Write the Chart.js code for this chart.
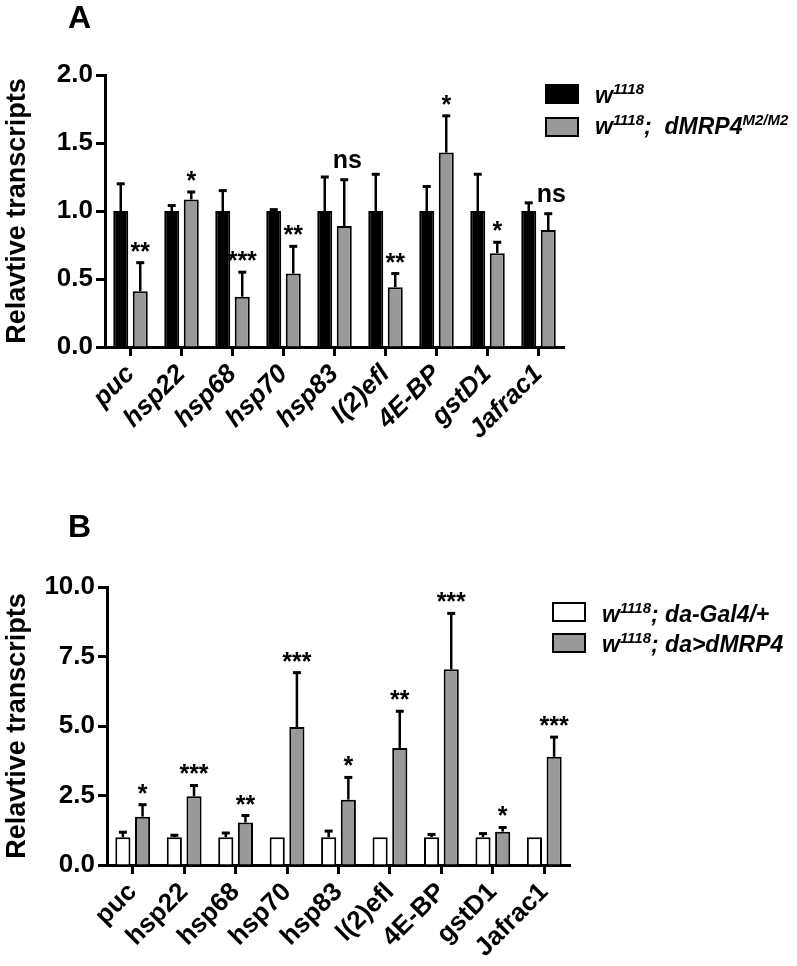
<!DOCTYPE html>
<html>
<head>
<meta charset="utf-8">
<script src="https://cdn.jsdelivr.net/npm/chart.js@4.4.0/dist/chart.umd.min.js"></script>
<style>
  body { margin: 0; background: #fff; width: 797px; height: 966px; position: relative; overflow: hidden; }
  canvas { position: absolute; left: 0; }
  #chartA { top: 0; }
  #chartB { top: 470px; }
</style>
</head>
<body>
<canvas id="chartA" width="797" height="470"></canvas>
<canvas id="chartB" width="797" height="496"></canvas>
<script>
const genes = ["puc", "hsp22", "hsp68", "hsp70", "hsp83", "l(2)efl", "4E-BP", "gstD1", "Jafrac1"];

// panel A: w1118 vs w1118; dMRP4 M2/M2
const aControl = [1, 1, 1, 1, 1, 1, 1, 1, 1];
const aControlSem = [0.20, 0.04, 0.15, 0.01, 0.25, 0.27, 0.18, 0.27, 0.06];
const aMutant = [0.41, 1.085, 0.37, 0.54, 0.89, 0.44, 1.43, 0.69, 0.86];
const aMutantSem = [0.21, 0.055, 0.18, 0.20, 0.34, 0.10, 0.27, 0.08, 0.12];
const aSig = ["**", "*", "***", "**", "ns", "**", "*", "*", "ns"];
const aTicks = [0, 0.5, 1.0, 1.5, 2.0];

// panel B: w1118; da-Gal4/+ vs w1118; da>dMRP4
const bControl = [1, 1, 1, 1, 1, 1, 1, 1, 1];
const bControlSem = [0.18, 0.07, 0.15, 0, 0.22, 0, 0.10, 0.13, 0];
const bOver = [1.74, 2.47, 1.53, 4.96, 2.35, 4.21, 7.04, 1.20, 3.89];
const bOverSem = [0.43, 0.39, 0.25, 1.96, 0.80, 1.32, 2.01, 0.15, 0.71];
const bSig = ["*", "***", "**", "***", "*", "**", "***", "*", "***"];
const bTicks = [0, 2.5, 5.0, 7.5, 10.0];

const FONT = "'Liberation Sans', Arial, sans-serif";
const GRAY = "#999999";

// error bars (upper only) + significance marks
const errorBars = {
  id: "errorBars",
  afterDatasetsDraw(chart) {
    const ctx = chart.ctx;
    const y = chart.scales.y;
    ctx.save();
    chart.data.datasets.forEach((ds, di) => {
      const meta = chart.getDatasetMeta(di);
      meta.data.forEach((bar, i) => {
        const top = y.getPixelForValue(ds.data[i] + ds.sem[i]);
        if (ds.sem[i] > 0) {
          ctx.strokeStyle = "#000";
          ctx.lineWidth = 2.5;
          ctx.beginPath();
          ctx.moveTo(bar.x, bar.y);
          ctx.lineTo(bar.x, top);
          ctx.stroke();
          ctx.lineWidth = 3;
          ctx.beginPath();
          ctx.moveTo(bar.x - 4, top);
          ctx.lineTo(bar.x + 4, top);
          ctx.stroke();
        }
        if (ds.sig) {
          const s = ds.sig[i];
          ctx.fillStyle = "#000";
          ctx.textAlign = "center";
          ctx.textBaseline = "alphabetic";
          ctx.font = "bold 25px " + FONT;
          ctx.fillText(s, bar.x + (s === "ns" ? 3 : 0), top - (s === "ns" ? 12 : 3));
        }
      });
    });
    ctx.restore();
  }
};

// legend with superscripts, and panel letter
const decor = {
  id: "decor",
  afterDraw(chart) {
    const o = chart.options.plugins.decor;
    const ctx = chart.ctx;
    ctx.save();
    ctx.fillStyle = "#000";
    ctx.textAlign = "left";
    ctx.textBaseline = "alphabetic";
    ctx.font = "bold 32px " + FONT;
    ctx.fillText(o.letter, o.letterX, o.letterY);
    o.items.forEach((item) => {
      ctx.fillStyle = item.fill;
      ctx.fillRect(o.boxX, item.boxY, 34, 20);
      ctx.strokeStyle = "#000";
      ctx.lineWidth = 2;
      ctx.strokeRect(o.boxX + 1, item.boxY + 1, 32, 18);
      let x = o.textX;
      item.parts.forEach(([txt, sup]) => {
        ctx.fillStyle = "#000";
        ctx.font = "italic bold " + (sup ? 15 : 23) + "px " + FONT;
        ctx.fillText(txt, x, item.base - (sup ? 9 : 0));
        x += ctx.measureText(txt).width;
      });
    });
    ctx.restore();
  }
};

function buildChart(id, c) {
  return new Chart(document.getElementById(id), {
    type: "bar",
    data: {
      labels: genes,
      datasets: [
        { data: c.ctrl, sem: c.ctrlSem, backgroundColor: c.ctrlFill, borderColor: "#000", borderWidth: 2 },
        { data: c.test, sem: c.testSem, sig: c.sig, backgroundColor: GRAY, borderColor: "#000", borderWidth: 2 }
      ]
    },
    options: {
      responsive: false,
      animation: false,
      categoryPercentage: 0.765,
      barPercentage: 0.77,
      layout: { padding: { left: 0, top: c.top, right: c.right, bottom: 0 } },
      plugins: { legend: { display: false }, tooltip: { enabled: false }, decor: c.decor },
      scales: {
        x: {
          grid: { offset: false, drawOnChartArea: false, tickLength: 9, tickWidth: 3, tickColor: "#000" },
          border: { color: "#000", width: 3 },
          ticks: {
            color: "#000", autoSkip: false, maxRotation: 45, minRotation: 45, padding: 3,
            font: { family: FONT, size: 26, weight: "bold", style: c.xStyle }
          },
          afterFit: (s) => { s.height = c.xHeight; }
        },
        y: {
          min: 0, max: c.ticks[c.ticks.length - 1],
          afterBuildTicks: (s) => { s.ticks = c.ticks.map((v) => ({ value: v })); },
          grid: { drawOnChartArea: false, tickLength: 9, tickWidth: 3, tickColor: "#000" },
          border: { color: "#000", width: 3 },
          ticks: {
            color: "#000", padding: 3,
            font: { family: FONT, size: 26, weight: "bold" },
            callback: (v) => Number(v).toFixed(1)
          },
          title: {
            display: true, text: "Relavtive transcripts", color: "#000",
            font: { family: FONT, size: 27, weight: "bold" }, padding: { top: 1, bottom: 0 }
          },
          afterFit: (s) => { s.width = c.yWidth; }
        }
      }
    },
    plugins: [errorBars, decor]
  });
}

buildChart("chartA", {
  ctrl: aControl, ctrlSem: aControlSem, ctrlFill: "#000",
  test: aMutant, testSem: aMutantSem, sig: aSig, ticks: aTicks,
  top: 75, right: 233, xHeight: 123, yWidth: 105, xStyle: "italic",
  decor: {
    letter: "A", letterX: 68, letterY: 28, boxX: 545, textX: 595,
    items: [
      { fill: "#000", boxY: 84, base: 103, parts: [["w", false], ["1118", true]] },
      { fill: GRAY, boxY: 117, base: 134, parts: [["w", false], ["1118", true], [";  dMRP4", false], ["M2/M2", true]] }
    ]
  }
});

buildChart("chartB", {
  ctrl: bControl, ctrlSem: bControlSem, ctrlFill: "#fff",
  test: bOver, testSem: bOverSem, sig: bSig, ticks: bTicks,
  top: 117, right: 227, xHeight: 101, yWidth: 107, xStyle: "normal",
  decor: {
    letter: "B", letterX: 68, letterY: 67, boxX: 552, textX: 602,
    items: [
      { fill: "#fff", boxY: 132, base: 152, parts: [["w", false], ["1118", true], ["; da-Gal4/+", false]] },
      { fill: GRAY, boxY: 163, base: 182, parts: [["w", false], ["1118", true], ["; da>dMRP4", false]] }
    ]
  }
});
</script>
</body>
</html>
